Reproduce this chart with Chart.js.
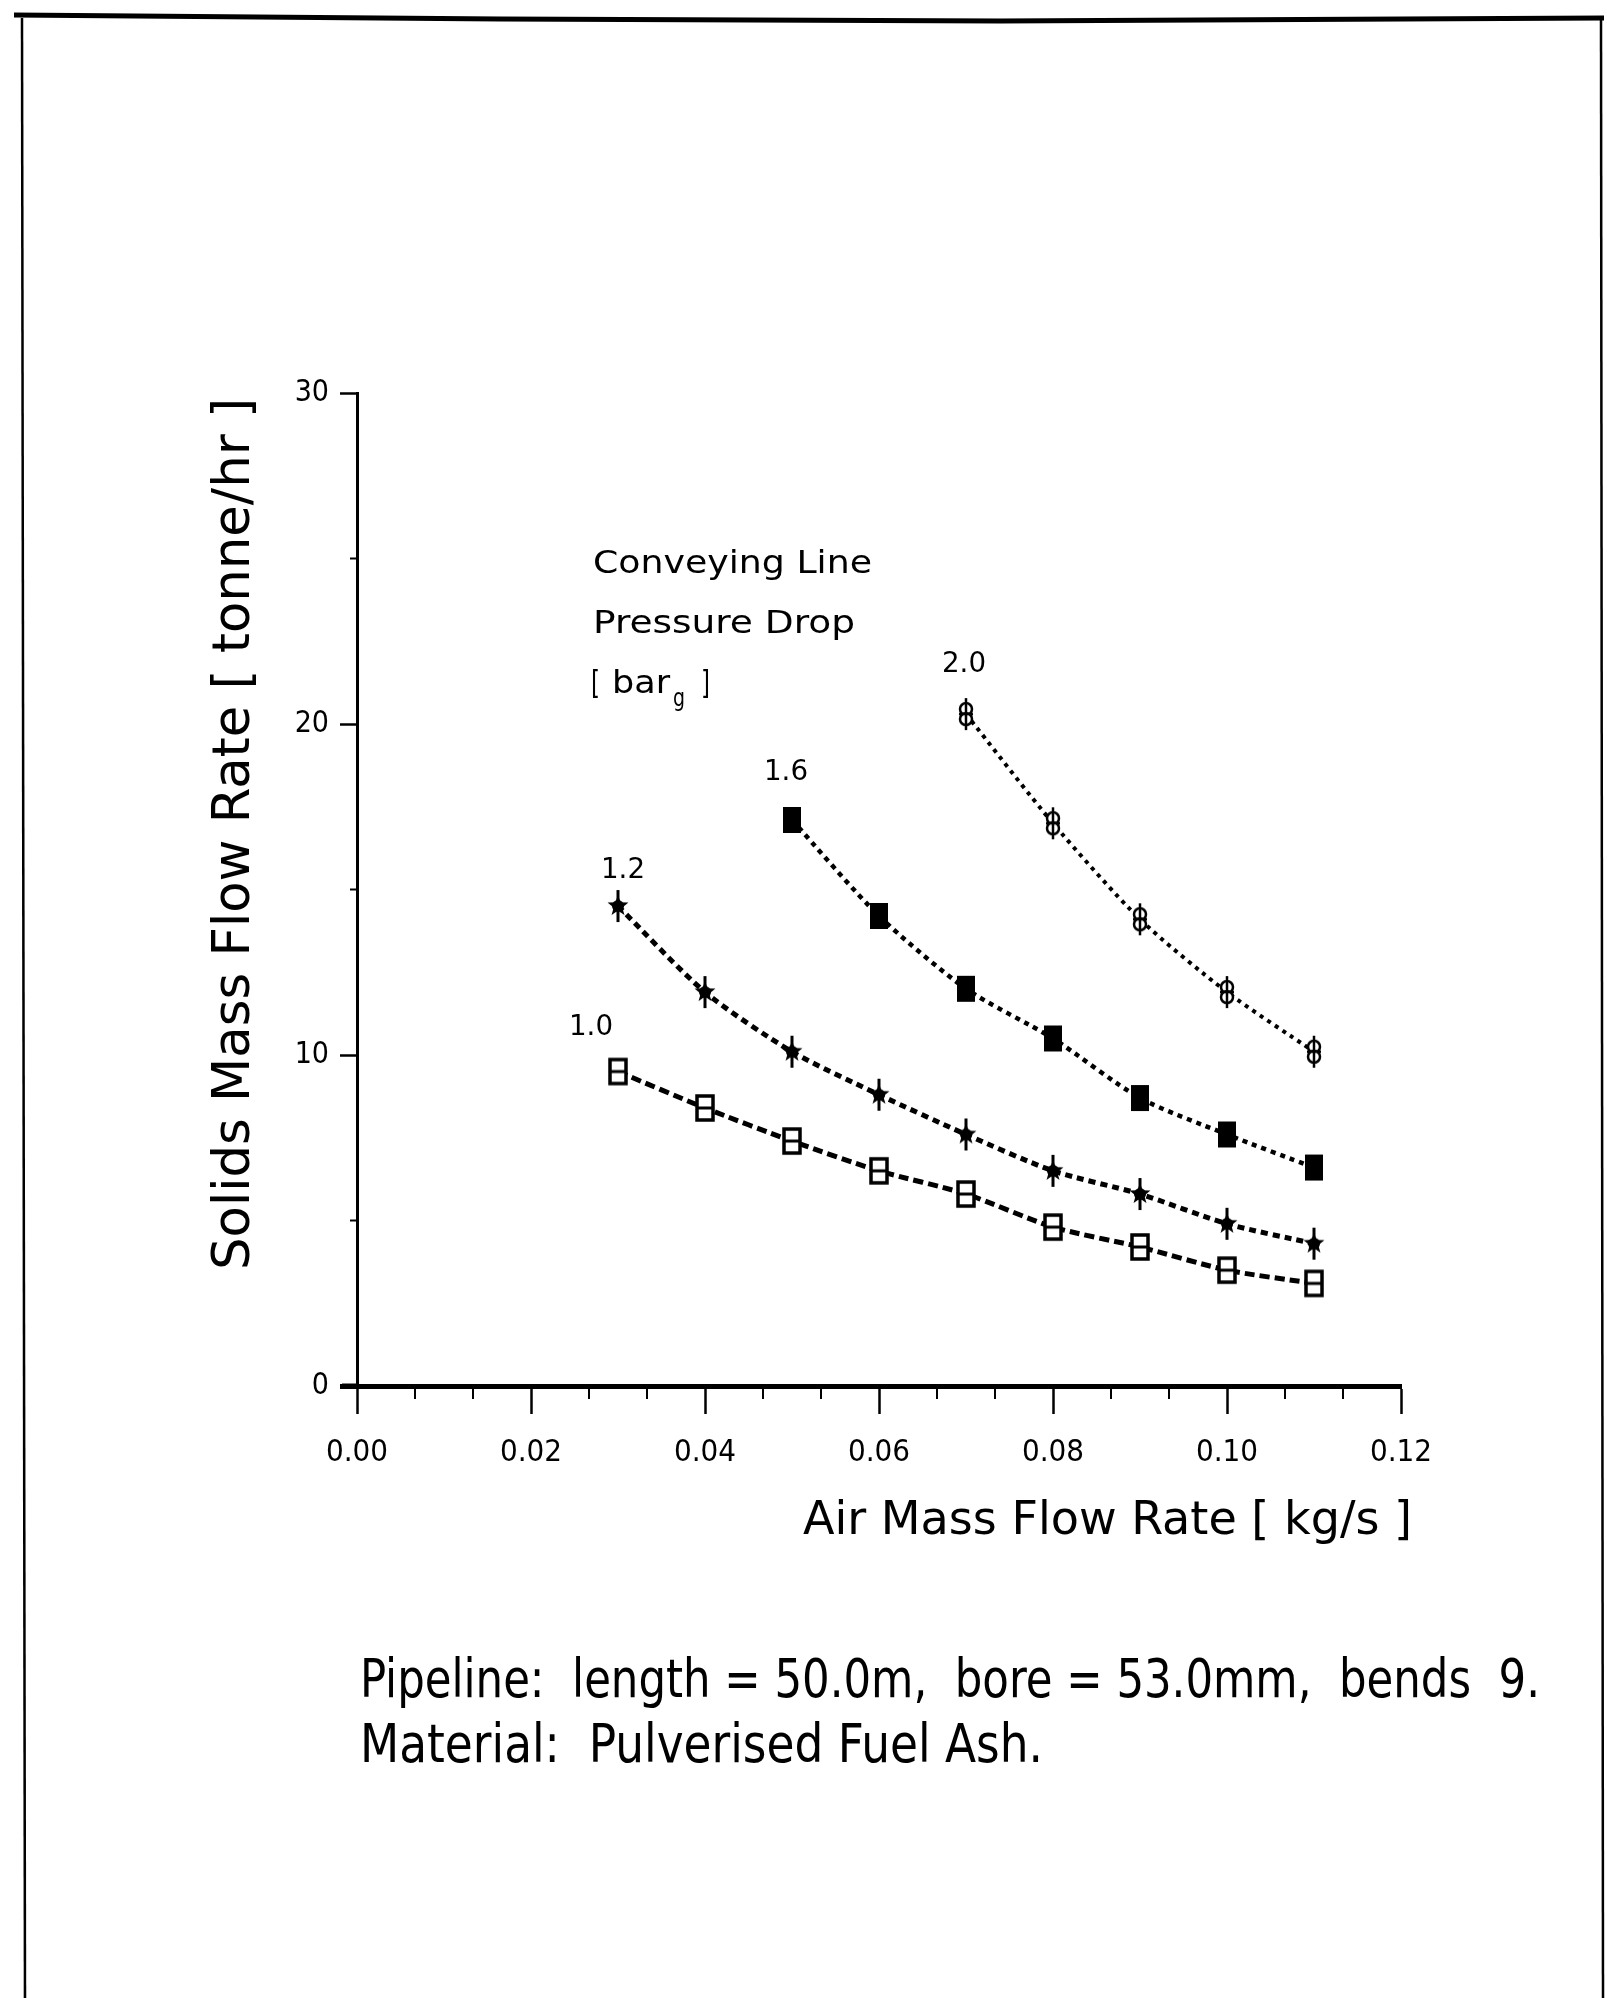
<!DOCTYPE html>
<html>
<head>
<meta charset="utf-8">
<script src="https://cdn.jsdelivr.net/npm/chart.js@4.4.1/dist/chart.umd.min.js"></script>
<style>
  html, body { margin: 0; padding: 0; background: #fff; }
  canvas { display: block; }
</style>
</head>
<body>
<canvas id="flowChart" width="1607" height="1998"></canvas>
<script>
// air mass flow rate [kg/s]
const airFlow = [0.03, 0.04, 0.05, 0.06, 0.07, 0.08, 0.09, 0.10, 0.11];

// solids mass flow rate [tonne/hr] for each pressure drop
const drop10 = [9.5, 8.4, 7.4, 6.5, 5.8, 4.8, 4.2, 3.5, 3.1];
const drop12 = [14.5, 11.9, 10.1, 8.8, 7.6, 6.5, 5.8, 4.9, 4.3];
const drop16 = [17.1, 14.2, 12.0, 10.5, 8.7, 7.6, 6.6];   // from 0.05
const drop20 = [20.3, 17.0, 14.1, 11.9, 10.1];             // from 0.07

const seriesLabels = ["1.0", "1.2", "1.6", "2.0"];
const xTicks = [0, 0.02, 0.04, 0.06, 0.08, 0.10, 0.12];
const yTicks = [0, 10, 20, 30];

const FONT = "'DejaVu Sans Condensed', 'Liberation Sans Narrow', 'DejaVu Sans', sans-serif";

function toPoints(vals, startIdx) {
  return vals.map((v, i) => ({ x: airFlow[startIdx + i], y: v }));
}

// marker images
function makeMarker(kind) {
  const c = document.createElement("canvas");
  const g = c.getContext("2d");
  g.fillStyle = "#000";
  g.strokeStyle = "#000";
  if (kind === "openSquare") {
    c.width = 22; c.height = 30;
    g.fillStyle = "#fff";
    g.fillRect(3, 3, 16, 24);
    g.lineWidth = 3.5;
    g.strokeRect(3, 3, 16, 24);
    g.lineWidth = 3;
    g.beginPath(); g.moveTo(3, 15); g.lineTo(19, 15); g.stroke();
  } else if (kind === "star") {
    c.width = 28; c.height = 34;
    g.beginPath();
    for (let i = 0; i < 10; i++) {
      const r = i % 2 ? 4.5 : 11;
      const a = -Math.PI / 2 + i * Math.PI / 5;
      g.lineTo(14 + r * Math.cos(a), 17 + r * Math.sin(a));
    }
    g.closePath(); g.fill();
    g.beginPath(); g.arc(14, 17, 6, 0, Math.PI * 2); g.fill();
    g.lineWidth = 3;
    g.beginPath(); g.moveTo(14, 1); g.lineTo(14, 33); g.stroke();
  } else if (kind === "solidSquare") {
    c.width = 22; c.height = 30;
    g.fillRect(2, 2, 18, 26);
  } else {
    c.width = 24; c.height = 34;
    g.lineWidth = 2.5;
    g.fillStyle = "#fff";
    g.beginPath(); g.arc(12, 12, 6, 0, Math.PI * 2); g.fill(); g.stroke();
    g.beginPath(); g.arc(12, 22, 6, 0, Math.PI * 2); g.fill(); g.stroke();
    g.beginPath(); g.moveTo(12, 1); g.lineTo(12, 33); g.stroke();
    g.beginPath(); g.moveTo(5, 17); g.lineTo(19, 17); g.stroke();
  }
  return c;
}

function lineSet(label, data, marker, dash, width) {
  return {
    label: label,
    data: data,
    borderColor: "#000",
    backgroundColor: "#000",
    borderWidth: width,
    borderDash: dash,
    tension: 0.25,
    pointStyle: makeMarker(marker),
    pointRadius: 9
  };
}

// label offsets from the first point of each series
const labelOffset = { "1.0": [-49, -37], "1.2": [-17, -28], "1.6": [-28, -40], "2.0": [-24, -42] };

function fitText(ctx, text, x, y, size, width) {
  ctx.font = size + "px " + FONT;
  const w = ctx.measureText(text).width;
  const sx = width ? width / w : 1;
  ctx.save();
  ctx.translate(x, y);
  ctx.scale(sx, 1);
  ctx.fillText(text, 0, 0);
  ctx.restore();
  return w * sx;
}

const decorations = {
  id: "decorations",
  afterDraw(chart) {
    const ctx = chart.ctx;
    const xs = chart.scales.x, ys = chart.scales.y;
    const x0 = xs.getPixelForValue(0), y0 = ys.getPixelForValue(0);
    ctx.save();
    ctx.fillStyle = "#000";
    ctx.strokeStyle = "#000";
    ctx.textBaseline = "alphabetic";
    ctx.textAlign = "left";

    // frame
    ctx.lineWidth = 2.5;
    ctx.beginPath(); ctx.moveTo(22, 18); ctx.lineTo(25, 1998); ctx.stroke();
    ctx.beginPath(); ctx.moveTo(1601, 20); ctx.lineTo(1603, 1998); ctx.stroke();
    ctx.lineWidth = 5;
    ctx.beginPath(); ctx.moveTo(14, 15); ctx.lineTo(500, 19); ctx.lineTo(1000, 21); ctx.lineTo(1604, 18); ctx.stroke();

    // minor ticks
    ctx.lineWidth = 2;
    for (let k = 1; k < 18; k++) {
      if (k % 3 === 0) continue;
      const px = xs.getPixelForValue(k * 0.02 / 3);
      ctx.beginPath(); ctx.moveTo(px, y0); ctx.lineTo(px, y0 + 13); ctx.stroke();
    }
    [5, 15, 25].forEach(v => {
      const py = ys.getPixelForValue(v);
      ctx.beginPath(); ctx.moveTo(x0 - 7, py); ctx.lineTo(x0, py); ctx.stroke();
    });
    // x axis runs a little past the y axis
    ctx.lineWidth = 5;
    ctx.beginPath(); ctx.moveTo(x0 - 15, y0); ctx.lineTo(x0, y0); ctx.stroke();

    // axis titles
    ctx.save();
    ctx.translate(249, 1270);
    ctx.rotate(-Math.PI / 2);
    fitText(ctx, "Solids Mass Flow Rate [ tonne/hr ]", 0, 0, 52, 872);
    ctx.restore();
    fitText(ctx, "Air Mass Flow Rate [ kg/s ]", 803, 1534, 47, 609);

    // legend note
    fitText(ctx, "Conveying Line", 593, 573, 32, 279);
    fitText(ctx, "Pressure Drop", 593, 633, 32, 262);
    fitText(ctx, "[", 591, 693, 32, 9);
    fitText(ctx, "bar", 612, 693, 32, 58);
    fitText(ctx, "g", 673, 706, 24, 12);
    fitText(ctx, "]", 701, 693, 32, 9);

    // series labels
    chart.data.datasets.forEach(ds => {
      const p = ds.data[0];
      const off = labelOffset[ds.label];
      fitText(ctx, ds.label, xs.getPixelForValue(p.x) + off[0], ys.getPixelForValue(p.y) + off[1], 28, 44);
    });

    // pipeline notes
    fitText(ctx, "Pipeline:  length = 50.0m,  bore = 53.0mm,  bends  9.", 360, 1697, 53, 1180);
    fitText(ctx, "Material:  Pulverised Fuel Ash.", 360, 1762, 53, 683);
    ctx.restore();
  }
};

new Chart(document.getElementById("flowChart"), {
  type: "line",
  data: {
    datasets: [
      lineSet(seriesLabels[0], toPoints(drop10, 0), "openSquare", [10, 5], 5),
      lineSet(seriesLabels[1], toPoints(drop12, 0), "star", [7, 5], 5),
      lineSet(seriesLabels[2], toPoints(drop16, 2), "solidSquare", [5, 5], 4.5),
      lineSet(seriesLabels[3], toPoints(drop20, 4), "flower", [4, 5], 4)
    ]
  },
  options: {
    responsive: false,
    devicePixelRatio: 1,
    animation: false,
    layout: { padding: { top: 393, right: 206, left: 0, bottom: 0 } },
    plugins: { legend: { display: false }, tooltip: { enabled: false } },
    scales: {
      x: {
        type: "linear",
        min: 0,
        max: 0.12,
        afterFit: s => { s.height = 612; },
        afterBuildTicks: s => { s.ticks = xTicks.map(v => ({ value: v })); },
        ticks: {
          color: "#000",
          padding: 20,
          font: { family: FONT, size: 31 },
          callback: v => v.toFixed(2)
        },
        grid: { drawOnChartArea: false, tickLength: 28, tickWidth: 2.5, tickColor: "#000" },
        border: { color: "#000", width: 5 }
      },
      y: {
        type: "linear",
        min: 0,
        max: 30,
        afterFit: s => { s.width = 357; },
        afterBuildTicks: s => { s.ticks = yTicks.map(v => ({ value: v })); },
        ticks: {
          color: "#000",
          padding: 11,
          font: { family: FONT, size: 30 },
          callback: v => String(v)
        },
        grid: {
          drawOnChartArea: false,
          tickLength: 17,
          tickColor: "#000",
          tickWidth: c => (c.tick && c.tick.value === 0 ? 5 : 2.5)
        },
        border: { color: "#000", width: 3 }
      }
    }
  },
  plugins: [decorations]
});
</script>
</body>
</html>
